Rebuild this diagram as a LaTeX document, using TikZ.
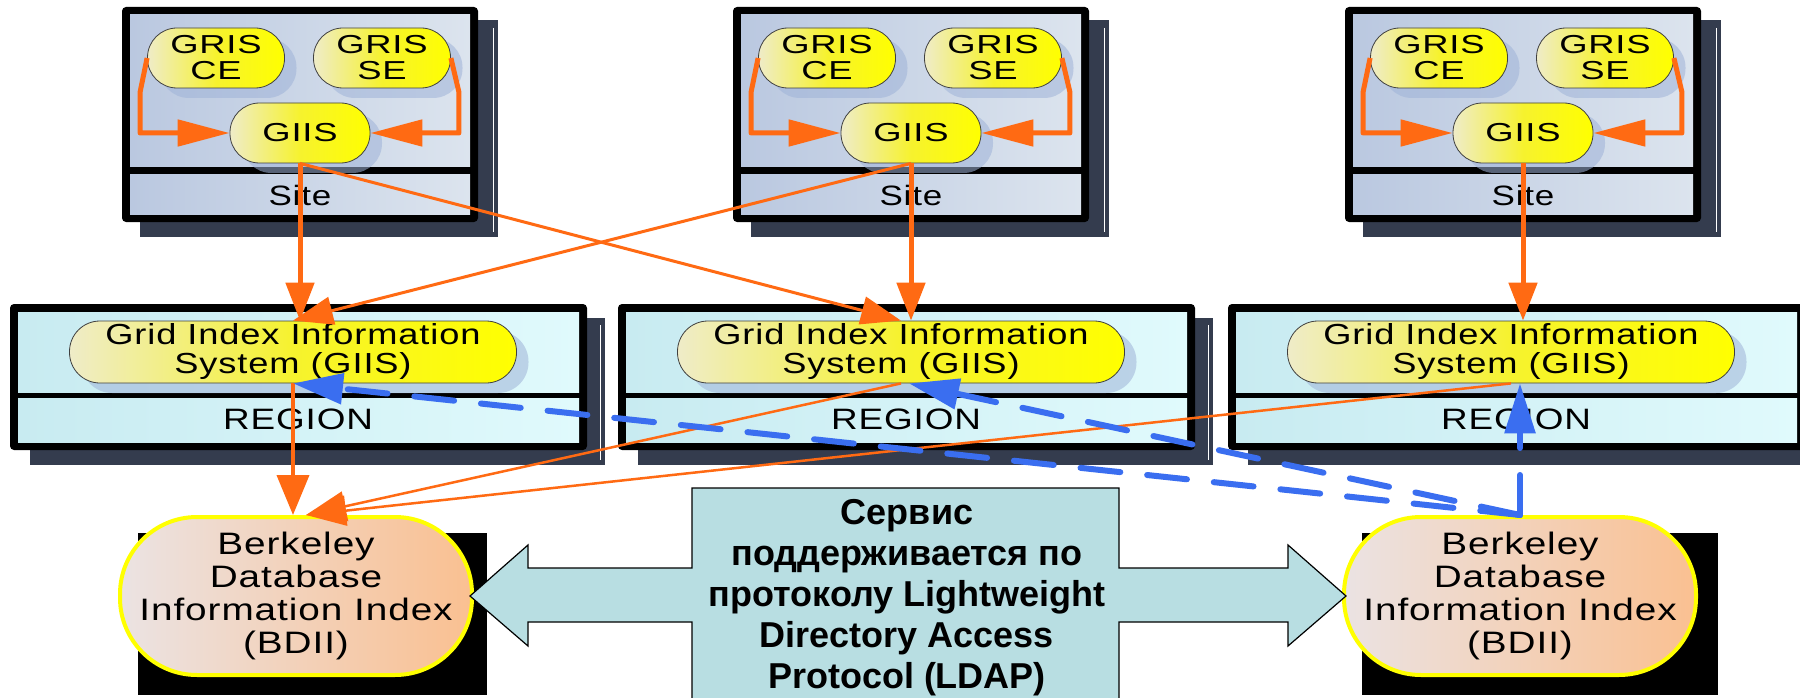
\documentclass[tikz,border=0pt]{standalone}
\usepackage{fontspec}
\setmainfont{Liberation Sans}
\newfontfamily\wf[FakeStretch=1.25,LetterSpace=3]{Liberation Sans}
\newfontfamily\wfx[FakeStretch=1.4,LetterSpace=3]{Liberation Sans}
\usetikzlibrary{arrows.meta,shadows}

\definecolor{orng}{HTML}{FF6A13}
\definecolor{blu}{HTML}{3A6EF0}
\definecolor{frameshadow}{HTML}{343C4E}
\definecolor{ovalshadow}{HTML}{9FB3D8}
\definecolor{siteA}{HTML}{BAC8E0}
\definecolor{siteB}{HTML}{DCE4EE}
\definecolor{regA}{HTML}{C8EBF1}
\definecolor{regB}{HTML}{E0FAFC}
\definecolor{ovalA}{HTML}{EFECC8}
\definecolor{ovalM}{HTML}{F6F22E}
\definecolor{ovalB}{HTML}{FFFF00}
\definecolor{bdiiA}{HTML}{EBE3E3}
\definecolor{bdiiB}{HTML}{FAC091}
\definecolor{ldapfill}{HTML}{B8DEE2}

\tikzset{
  frameshade/.style={fill=frameshadow},
  frame/.style={fill=black, rounded corners=4pt},
  sitepanel/.style={left color=siteA, right color=siteB},
  regpanel/.style={left color=regA, right color=regB},
  oval/.style={draw=black!75, line width=0.8pt, left color=ovalA, right color=ovalB,
    middle color=ovalM, inner sep=0pt, align=center,
    drop shadow={shadow xshift=12pt, shadow yshift=-10pt, fill=ovalshadow, opacity=0.55}},
  grisoval/.style={oval, minimum width=137pt, minimum height=60pt, rounded corners=29.5pt,
    font=\wfx\fontsize{26}{26}\selectfont},
  giisoval/.style={oval, minimum width=140pt, minimum height=60pt, rounded corners=29.5pt,
    font=\wfx\fontsize{26}{26}\selectfont},
  regoval/.style={oval, minimum width=447pt, minimum height=62pt, rounded corners=30.5pt,
    font=\wf\fontsize{29}{29}\selectfont},
  sitetext/.style={inner sep=0pt, font=\wf\fontsize{28}{28}\selectfont},
  regtext/.style={inner sep=0pt, font=\wf\fontsize{29.5}{29.5}\selectfont},
  bdii/.style={draw=ovalB, line width=4pt, left color=bdiiA, right color=bdiiB,
    minimum width=352pt, minimum height=158pt, rounded corners=77pt, inner sep=0pt,
    align=center, font=\wf\fontsize{31}{33}\selectfont},
  ldaptext/.style={align=center, inner sep=0pt,
    font=\fontsize{36}{41}\selectfont\bfseries},
  bigarrow/.style={draw=black, line width=1.2pt, fill=ldapfill, line join=miter},
  feed/.style={orng, line width=5pt, line join=round, -{Triangle[length=52pt,width=26pt]}},
  upthick/.style={orng, line width=5pt, -{Triangle[length=38pt,width=28pt]}},
  upthin/.style={orng, line width=3pt, -{Triangle[length=40pt,width=28pt]}},
  downlink/.style={orng, line width=4pt, -{Triangle[length=40pt,width=32pt]}},
  downthin/.style={orng, line width=2.5pt, -{Triangle[length=40pt,width=30pt]}},
  ldaplink/.style={blu, line width=6pt, line cap=round, dash pattern=on 40pt off 27pt,
    -{Triangle[length=50pt,width=30pt]}}
}

\begin{document}
\begin{tikzpicture}[x=1pt,y=-1pt]
\useasboundingbox (0,0) rectangle (1800,698);
\fill[white] (0,0) rectangle (1800,698);

% ---- sites: local GRIS services feeding the site GIIS ----
\foreach \i/\L in {1/122,2/733,3/1345}{
  \fill[frameshade] (\L+18,20) rectangle (\L+376,237);
  \draw[white, line width=1pt] (\L+371,28) -- (\L+371,232);
  \fill[frame] (\L,7) rectangle (\L+356,222);
  \fill[sitepanel] (\L+8,15) rectangle (\L+348,167);
  \fill[sitepanel] (\L+8,175) rectangle (\L+348,214);
  \node[grisoval] (ce\i) at (\L+94,58) {GRIS\\CE};
  \node[grisoval] (se\i) at (\L+260,58) {GRIS\\SE};
  \node[giisoval] (gs\i) at (\L+178,133) {GIIS};
  \node[sitetext] (st\i) at (\L+178,195) {Site};
  \draw[feed] (ce\i.west) -- ++(-7,34) |- (gs\i.west);
  \draw[feed] (se\i.east) -- ++(8,34) |- (gs\i.east);
}

% ---- regions: regional GIIS ----
\foreach \j/\R in {1/10,2/618,3/1228}{
  \fill[frameshade] (\R+20,318) rectangle (\R+595,465);
  \draw[white, line width=1pt] (\R+590,325) -- (\R+590,460);
  \fill[frame] (\R,304) rectangle (\R+577,450);
  \fill[regpanel] (\R+8,312) rectangle (\R+569,392);
  \fill[regpanel] (\R+8,398) rectangle (\R+569,442);
  \node[regoval] (rg\j) at (\R+283,352) {Grid Index Information\\System (GIIS)};
  \node[regtext] (rt\j) at (\R+288,419) {REGION};
}

% ---- BDII servers ----
\fill[black] (138,533) rectangle (487,695);
\fill[black] (1362,533) rectangle (1718,695);
\node[bdii] (b1) at (296,596) {Berkeley\\Database\\Information Index\\(BDII)};
\node[bdii] (b2) at (1520,596) {Berkeley\\Database\\Information Index\\(BDII)};

% ---- LDAP double arrow between the two BDII ----
\draw[bigarrow] (692,488) -- (1119,488) -- (1119,568) -- (1288,568) -- (1288,545)
  -- ([xshift=4pt]b2.west) -- (1288,646) -- (1288,622) -- (1119,622) -- (1119,710)
  -- (692,710) -- (692,622) -- (528,622) -- (528,646) -- ([xshift=-4pt]b1.east)
  -- (528,545) -- (528,568) -- (692,568) -- cycle;
\node[ldaptext] (ldap) at (907,598)
  {Сервис\\поддерживается по\\протоколу Lightweight\\Directory Access\\Protocol (LDAP)};

% ---- site GIIS -> regional GIIS ----
\draw[upthin] (gs1.south) -- (rg2.north);
\draw[upthin] (gs2.south) -- (rg1.north);
\draw[upthick] (gs1.south) -- (gs1.south |- rg1.north);
\draw[upthick] (gs2.south) -- (gs2.south |- rg2.north);
\draw[upthick] (gs3.south) -- (gs3.south |- rg3.north);

% ---- regional GIIS -> BDII ----
\draw[downthin] (rg2.south) -- ([xshift=10pt]b1.north);
\draw[downthin] (rg3.south) -- ([xshift=10pt]b1.north);
\draw[downlink] (rg1.south) -- (rg1.south |- b1.north);

% ---- BDII queries to the regional GIIS ----
\draw[ldaplink] (b2.north) -- (rg1.south);
\draw[ldaplink] (b2.north) -- ([xshift=8pt]rg2.south);
\draw[ldaplink] (b2.north) -- (b2.north |- rg3.south);
\end{tikzpicture}
\end{document}
